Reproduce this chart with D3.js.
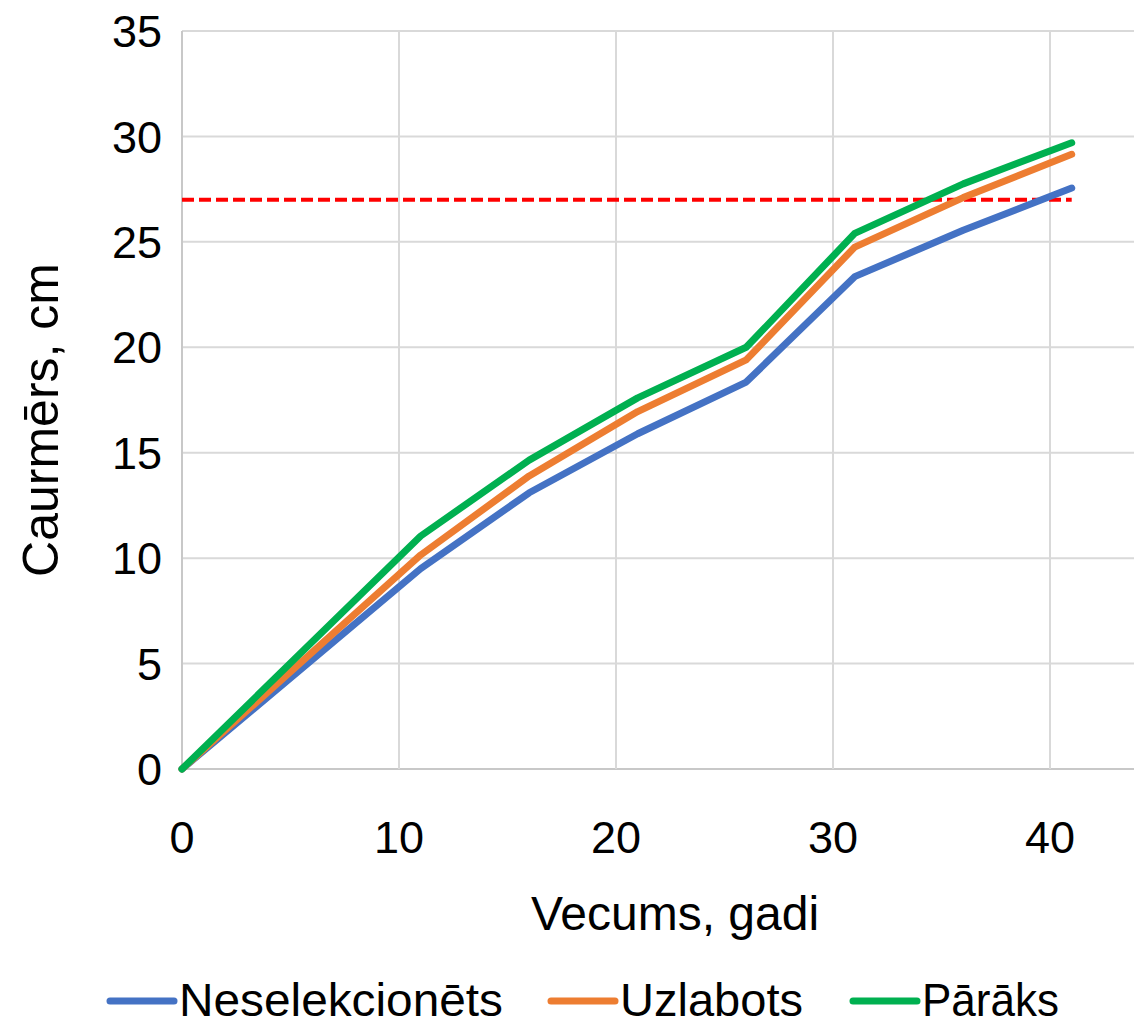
<!DOCTYPE html>
<html>
<head>
<meta charset="utf-8">
<script src="https://cdn.jsdelivr.net/npm/d3@7"></script>
<style>
  body { margin: 0; background: #fff; }
  svg text { font-family: "Liberation Sans", Arial, sans-serif; fill: #000; }
</style>
</head>
<body>
<div class="chart"></div>
<script>
// data
const ages = [0, 11, 16, 21, 26, 31, 36, 41];
const neselekcionets = [0, 9.5, 13.1, 15.9, 18.35, 23.35, 25.55, 27.55];
const uzlabots = [0, 10.15, 13.9, 16.95, 19.4, 24.75, 27.1, 29.15];
const paraks = [0, 11.05, 14.65, 17.6, 20.0, 25.4, 27.75, 29.7];
const seriesNames = ["Neselekcionēts", "Uzlabots", "Pārāks"];
const thresholdX = [0, 41];
const thresholdY = [27, 27];
const xTicks = [0, 10, 20, 30, 40];
const yTicks = [0, 5, 10, 15, 20, 25, 30, 35];

const width = 1134;
const height = 1027;
const marginLeft = 182;
const marginTop = 31;
const plotBottom = 769;

const colors = ["#4472C4", "#ED7D31", "#00B050"];

const x = d3.scaleLinear()
    .domain([0, 44])
    .range([marginLeft, marginLeft + 44 * 21.7]);

const y = d3.scaleLinear()
    .domain([0, 35])
    .range([plotBottom, marginTop]);

const svg = d3.select('.chart').append("svg")
    .attr("width", width)
    .attr("height", height);

// grid
svg.append("g")
    .selectAll("line")
    .data(yTicks)
    .join("line")
    .attr("x1", x(0))
    .attr("x2", x(44))
    .attr("y1", d => y(d))
    .attr("y2", d => y(d))
    .attr("stroke", d => d === 0 ? "#c8c8c8" : "#d9d9d9")
    .attr("stroke-width", 2);

svg.append("g")
    .selectAll("line")
    .data(xTicks)
    .join("line")
    .attr("x1", d => x(d))
    .attr("x2", d => x(d))
    .attr("y1", y(0))
    .attr("y2", y(35))
    .attr("stroke", d => d === 0 ? "#c8c8c8" : "#d9d9d9")
    .attr("stroke-width", 2);

// tick labels
svg.append("g")
    .selectAll("text")
    .data(yTicks)
    .join("text")
    .attr("x", marginLeft - 20)
    .attr("y", d => y(d))
    .attr("dy", "0.36em")
    .attr("text-anchor", "end")
    .attr("font-size", 45)
    .text(d => d);

svg.append("g")
    .selectAll("text")
    .data(xTicks)
    .join("text")
    .attr("x", d => x(d))
    .attr("y", 853)
    .attr("text-anchor", "middle")
    .attr("font-size", 45)
    .text(d => d);

// axis titles
svg.append("text")
    .attr("x", 675)
    .attr("y", 930)
    .attr("text-anchor", "middle")
    .attr("font-size", 48)
    .text("Vecums, gadi");

svg.append("text")
    .attr("transform", `translate(58,${(y(0) + y(35)) / 2 + 20}) rotate(-90)`)
    .attr("text-anchor", "middle")
    .attr("font-size", 50)
    .text("Caurmērs, cm");

// threshold
svg.append("path")
    .datum(thresholdX.map((d, i) => [d, thresholdY[i]]))
    .attr("d", d3.line().x(d => x(d[0])).y(d => y(d[1])))
    .attr("fill", "none")
    .attr("stroke", "#FF0000")
    .attr("stroke-width", 4)
    .attr("stroke-dasharray", "12,5");

// series
const allSeries = [neselekcionets, uzlabots, paraks];
const line = d3.line()
    .x((d, i) => x(ages[i]))
    .y(d => y(d));

svg.append("g")
    .selectAll("path")
    .data(allSeries)
    .join("path")
    .attr("d", d => line(d))
    .attr("fill", "none")
    .attr("stroke", (d, i) => colors[i])
    .attr("stroke-width", 7)
    .attr("stroke-linecap", "round")
    .attr("stroke-linejoin", "round");

// legend
const legendX = [110, 551, 853];
const legend = svg.append("g")
    .selectAll("g")
    .data(seriesNames)
    .join("g")
    .attr("transform", (d, i) => `translate(${legendX[i]},1001)`);

legend.append("line")
    .attr("x1", 0)
    .attr("x2", 64)
    .attr("stroke", (d, i) => colors[i])
    .attr("stroke-width", 7)
    .attr("stroke-linecap", "round");

legend.append("text")
    .attr("x", 69)
    .attr("y", 15)
    .attr("font-size", 46)
    .attr("textLength", (d, i) => [324, 183, 137][i])
    .attr("lengthAdjust", "spacingAndGlyphs")
    .text(d => d);
</script>
</body>
</html>
